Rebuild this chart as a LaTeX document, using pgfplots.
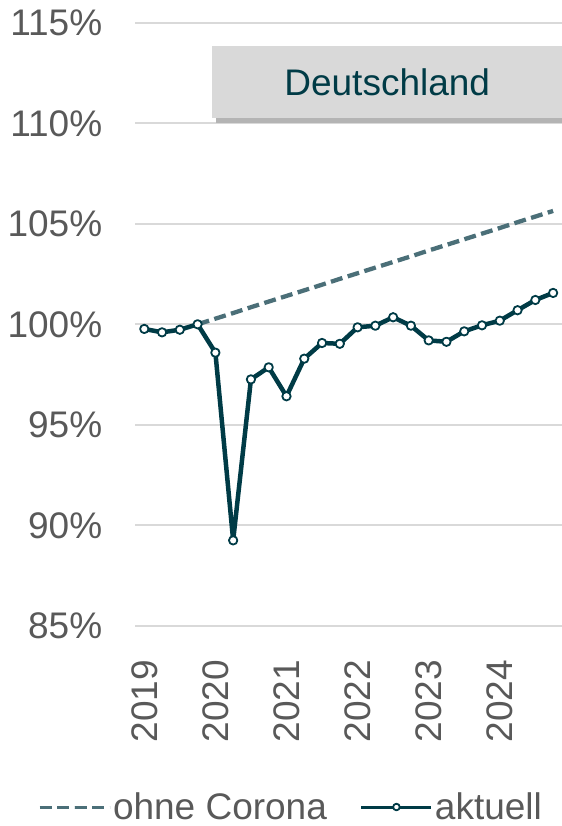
\documentclass[border=0pt]{standalone}
\usepackage{pgfplots}
\pgfplotsset{compat=1.18}
\usepackage{fontspec}
\setmainfont{Liberation Sans}
\definecolor{tealdark}{RGB}{0,59,70}
\definecolor{tealmid}{RGB}{75,111,120}
\definecolor{txtgray}{RGB}{89,89,89}
\definecolor{gridgray}{RGB}{217,217,217}
\definecolor{boxgray}{RGB}{217,217,217}
\definecolor{shadowgray}{RGB}{180,180,180}
\begin{document}
\begin{tikzpicture}
\begin{axis}[
  at={(135.4bp,200.2bp)}, anchor=south west,
  scale only axis, width=426.6bp, height=603bp,
  xmin=-0.5, xmax=23.5, ymin=85, ymax=115,
  axis line style={draw=none},
  major tick length=0pt,
  ytick={85,90,95,100,105,110,115},
  yticklabels={85\%,90\%,95\%,100\%,105\%,110\%,115\%},
  xtick={0,4,8,12,16,20},
  xticklabels={2019,2020,2021,2022,2023,2024},
  ymajorgrids, grid style={gridgray, line width=1.6bp},
  tick label style={font=\fontsize{37bp}{41bp}\selectfont, text=txtgray},
  yticklabel style={anchor=east, inner sep=0pt},
  yticklabel shift=33bp,
  xticklabel style={rotate=90, anchor=east, inner sep=0pt},
  xticklabel shift=34bp,
  clip=false,
  legend columns=2,
  legend style={at={(-0.2283,-0.324)}, anchor=south west, draw=none, fill=none,
    inner sep=0pt, outer sep=0pt, nodes={inner sep=0pt},
    font=\fontsize{37bp}{41bp}\selectfont, text=txtgray,
    /tikz/every odd column/.append style={column sep=2bp},
    /tikz/every even column/.append style={column sep=33bp}},
  legend image code/.code={\draw[mark repeat=2,mark phase=2,#1,line width=3bp,mark size=3.3bp] plot coordinates {(0bp,0bp) (35bp,0bp) (70bp,0bp)};},
]
\addplot[tealmid, line width=4.3bp, dash pattern=on 12bp off 5.5bp] coordinates {
(3,100.00) (4,100.28) (5,100.56) (6,100.85) (7,101.13) (8,101.41) (9,101.69)
(10,101.97) (11,102.26) (12,102.54) (13,102.82) (14,103.10) (15,103.38)
(16,103.67) (17,103.95) (18,104.23) (19,104.51) (20,104.79) (21,105.08)
(22,105.36) (23,105.64)};
\addlegendentry{ohne Corona}
\addplot[tealdark, line width=4.5bp, line join=round, mark=*, mark size=4.2bp,
  mark options={fill=white, draw=tealdark, line width=1.8bp, solid}] coordinates {
(0,99.77) (1,99.60) (2,99.73) (3,100.00) (4,98.59) (5,89.25) (6,97.26) (7,97.86)
(8,96.42) (9,98.29) (10,99.07) (11,99.03) (12,99.85) (13,99.93) (14,100.35)
(15,99.93) (16,99.20) (17,99.13) (18,99.65) (19,99.95) (20,100.18) (21,100.70)
(22,101.21) (23,101.56)};
\addlegendentry{aktuell}
\end{axis}
\fill[shadowgray] (216.3bp,702.7bp) rectangle (570bp,775.3bp);
\node[fill=boxgray, minimum width=349.7bp, minimum height=72.6bp, inner sep=0pt,
  font=\fontsize{37bp}{41bp}\selectfont, text=tealdark] at (387.2bp,744bp) {Deutschland};
\pgfresetboundingbox
\path[use as bounding box] (0,0) rectangle (562bp,826bp);
\end{tikzpicture}
\end{document}
